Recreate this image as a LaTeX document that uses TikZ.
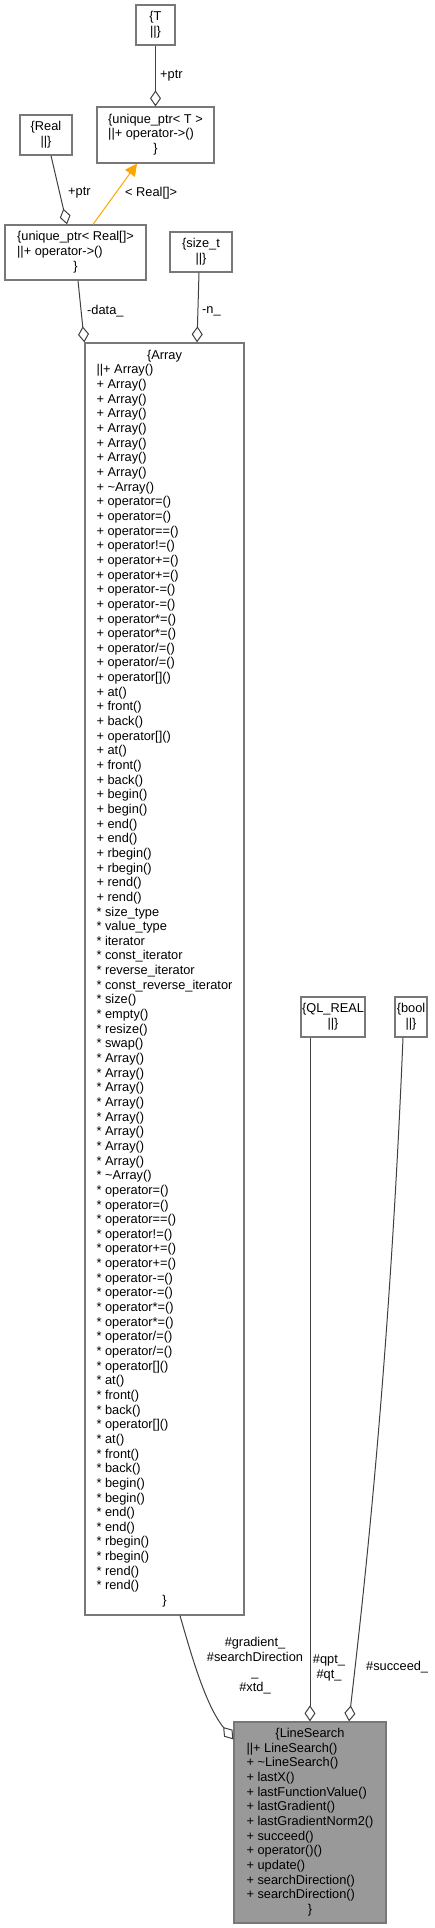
\documentclass[tikz,border=0pt]{standalone}
\usepackage{fontspec}
\setmainfont{Liberation Sans}
\usetikzlibrary{arrows.meta}
\definecolor{boxgray}{RGB}{120,120,120}
\definecolor{edgegray}{RGB}{64,64,64}
\definecolor{lsfill}{RGB}{153,153,153}
\definecolor{inhorange}{RGB}{255,165,0}
\newcommand{\cc}[1]{\multicolumn{1}{@{}c@{}}{#1}}
\newcommand{\rec}[1]{\begin{tabular}{@{}l@{}}#1\end{tabular}}
\begin{document}
\begin{tikzpicture}[x=1pt,y=-1pt,
  every node/.style={font=\fontsize{12.8}{14.65}\selectfont, inner sep=0pt},
  cls/.style={draw=boxgray, line width=1.3pt, fill=white},
  lbl/.style={font=\fontsize{12.8}{15}\selectfont, inner sep=0pt},
  agg/.style={draw=edgegray, line width=1pt, -{Diamond[length=16pt,width=11pt,fill=white]}},
  inh/.style={draw=inhorange, line width=1pt, -{Triangle[length=12pt,width=12pt,fill=inhorange]}}]
\useasboundingbox (0,0) rectangle (435,1928);

% class boxes
\node[cls, minimum width=39pt, minimum height=40pt] (T) at (155.5,25) {\rec{\cc{\{T}\\\cc{||\}}}};
\node[cls, minimum width=117pt, minimum height=56pt] (uT) at (155.5,135) {\rec{\cc{\{unique\_ptr< T >}\\||+ operator->()\\\cc{\}}}};
\node[cls, minimum width=52pt, minimum height=40pt] (Real) at (46,135) {\rec{\cc{\{Real}\\\cc{||\}}}};
\node[cls, minimum width=141pt, minimum height=55pt] (uR) at (75.5,252.5) {\rec{\cc{\{unique\_ptr< Real[]>}\\||+ operator->()\\\cc{\}}}};
\node[cls, minimum width=62pt, minimum height=40pt] (sizet) at (201,252) {\rec{\cc{\{size\_t}\\\cc{||\}}}};
\node[cls, minimum width=64pt, minimum height=40pt] (qlreal) at (333,1017) {\rec{\cc{\{QL\_REAL}\\\cc{||\}}}};
\node[cls, minimum width=32pt, minimum height=40pt] (bool) at (411,1017) {\rec{\cc{\{bool}\\\cc{||\}}}};

\node[cls, minimum width=159pt, minimum height=1272pt] (Array) at (164.5,979) {\rec{\cc{\{Array}\\
||+ Array()\\
+ Array()\\
+ Array()\\
+ Array()\\
+ Array()\\
+ Array()\\
+ Array()\\
+ Array()\\
+ \textasciitilde Array()\\
+ operator=()\\
+ operator=()\\
+ operator==()\\
+ operator!=()\\
+ operator+=()\\
+ operator+=()\\
+ operator-=()\\
+ operator-=()\\
+ operator*=()\\
+ operator*=()\\
+ operator/=()\\
+ operator/=()\\
+ operator[]()\\
+ at()\\
+ front()\\
+ back()\\
+ operator[]()\\
+ at()\\
+ front()\\
+ back()\\
+ begin()\\
+ begin()\\
+ end()\\
+ end()\\
+ rbegin()\\
+ rbegin()\\
+ rend()\\
+ rend()\\
{*} size\_type\\
{*} value\_type\\
{*} iterator\\
{*} const\_iterator\\
{*} reverse\_iterator\\
{*} const\_reverse\_iterator\\
{*} size()\\
{*} empty()\\
{*} resize()\\
{*} swap()\\
{*} Array()\\
{*} Array()\\
{*} Array()\\
{*} Array()\\
{*} Array()\\
{*} Array()\\
{*} Array()\\
{*} Array()\\
{*} \textasciitilde Array()\\
{*} operator=()\\
{*} operator=()\\
{*} operator==()\\
{*} operator!=()\\
{*} operator+=()\\
{*} operator+=()\\
{*} operator-=()\\
{*} operator-=()\\
{*} operator*=()\\
{*} operator*=()\\
{*} operator/=()\\
{*} operator/=()\\
{*} operator[]()\\
{*} at()\\
{*} front()\\
{*} back()\\
{*} operator[]()\\
{*} at()\\
{*} front()\\
{*} back()\\
{*} begin()\\
{*} begin()\\
{*} end()\\
{*} end()\\
{*} rbegin()\\
{*} rbegin()\\
{*} rend()\\
{*} rend()\\
\cc{\}}}};

\node[cls, fill=lsfill, minimum width=152pt, minimum height=201pt] (LS) at (310,1822.5) {\rec{\cc{\{LineSearch}\\
||+ LineSearch()\\
+ \textasciitilde LineSearch()\\
+ lastX()\\
+ lastFunctionValue()\\
+ lastGradient()\\
+ lastGradientNorm2()\\
+ succeed()\\
+ operator()()\\
+ update()\\
+ searchDirection()\\
+ searchDirection()\\
\cc{\}}}};

% connectors
\draw[agg] (T.south) -- (uT.north);
\draw[agg] ([xshift=5pt]Real.south) -- ([xshift=-8.5pt]uR.north);
\draw[inh] ([xshift=17.5pt]uR.north) -- ([xshift=-18.5pt]uT.south);
\draw[agg] ([xshift=2.5pt]uR.south) -- (Array.north west);
\draw[agg] ([xshift=-2pt]sizet.south) -- ([xshift=32.5pt]Array.north);
\draw[agg] ([xshift=15.5pt]Array.south) .. controls (190,1650) and (205,1705) .. ([yshift=-18pt]LS.north west);
\draw[agg] ([xshift=-23pt]qlreal.south) -- (LS.north);
\draw[agg] ([xshift=-8pt]bool.south) .. controls (388,1400) and (358,1640) .. ([xshift=39pt]LS.north);

% labels
\node[lbl, anchor=west] (l1) at (160,76) {+ptr};
\node[lbl, anchor=west] (l2) at (68,193) {+ptr};
\node[lbl, anchor=west] (l3) at (125,193) {< Real[]>};
\node[lbl, anchor=west] (l4) at (87,311) {-data\_};
\node[lbl, anchor=west] (l5) at (202,311) {-n\_};
\node[lbl, align=center] (l6) at (255,1666) {\#gradient\_\\\#searchDirection\\\_\\\#xtd\_};
\node[lbl, align=center] (l7) at (329,1668) {\#qpt\_\\\#qt\_};
\node[lbl, anchor=west] (l8) at (366,1667) {\#succeed\_};
\end{tikzpicture}
\end{document}
